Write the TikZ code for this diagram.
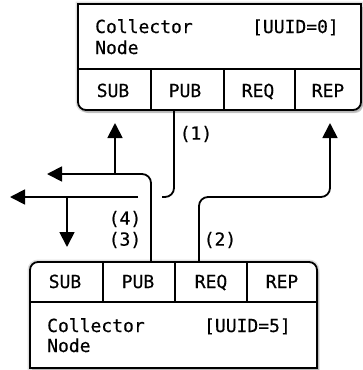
\documentclass[tikz,border=0pt]{standalone}
\usepackage{fontspec}
\newfontfamily\diagfont{DejaVu Sans Mono}[FakeBold=0.4]
\usetikzlibrary{arrows.meta, shadows}

\begin{document}
\begin{tikzpicture}[x=1pt, y=1pt,
    font=\diagfont\fontsize{18}{21}\selectfont,
    box/.style={line width=1.8pt, fill=white,
      preaction={draw=black, opacity=0.12, line width=5pt},
      drop shadow={shadow xshift=2pt, shadow yshift=-3pt, opacity=0.4}},
    rule/.style={line width=1.8pt},
    wire/.style={line width=1.8pt, rounded corners=9pt},
    tip/.style={-{Triangle[length=15pt, width=15pt]}},
    txt/.style={inner sep=0pt}]
  \useasboundingbox (0,0) rectangle (362,-370);

  % collector node, uuid 0
  \filldraw[box] (78,-4) [rounded corners=8pt] -- (78,-110) -- (361,-110)
    [sharp corners] -- (361,-4) -- cycle;
  \draw[rule] (78,-69) -- (361,-69);
  \foreach \x in {151,224,295}
    \draw[rule] (\x,-69) -- (\x,-110);
  \node[txt, anchor=base west] (top-name) at (95,-33) {Collector};
  \node[txt, anchor=base west] (top-node) at (95,-54) {Node};
  \node[txt, anchor=base east] (top-uuid) at (339,-33) {[UUID=0]};
  \node[txt, anchor=base] (top-sub) at (113,-97) {SUB};
  \node[txt, anchor=base] (top-pub) at (185,-97) {PUB};
  \node[txt, anchor=base] (top-req) at (258,-97) {REQ};
  \node[txt, anchor=base] (top-rep) at (328,-97) {REP};

  % collector node, uuid 5
  \filldraw[box] (30,-368) [rounded corners=8pt] -- (30,-262) -- (317,-262)
    [sharp corners] -- (317,-368) -- cycle;
  \draw[rule] (30,-302) -- (317,-302);
  \foreach \x in {103,175,247}
    \draw[rule] (\x,-262) -- (\x,-302);
  \node[txt, anchor=base west] (bot-name) at (47,-332) {Collector};
  \node[txt, anchor=base west] (bot-node) at (47,-352) {Node};
  \node[txt, anchor=base east] (bot-uuid) at (291,-332) {[UUID=5]};
  \node[txt, anchor=base] (bot-sub) at (65,-288) {SUB};
  \node[txt, anchor=base] (bot-pub) at (138,-288) {PUB};
  \node[txt, anchor=base] (bot-req) at (211,-288) {REQ};
  \node[txt, anchor=base] (bot-rep) at (282,-288) {REP};

  % port ends and junctions
  \coordinate (top-sub-in)  at (115,-123);
  \coordinate (top-pub-out) at (174,-110);
  \coordinate (top-rep-in)  at (330,-123);
  \coordinate (bot-sub-in)  at (67,-247);
  \coordinate (bot-pub-out) at (151,-262);
  \coordinate (bot-req-out) at (199,-262);
  \coordinate (west-hi)     at (47,-174);
  \coordinate (west-lo)     at (10,-197);
  \coordinate (split-hi)    at (115,-174);
  \coordinate (split-lo)    at (67,-197);
  \coordinate (gap-r)       at (162,-197);
  \coordinate (gap-l)       at (138,-197);
  \coordinate (turn-rep)    at (330,-197);

  % messages
  \draw[wire, tip] (bot-pub-out) |- (west-hi);
  \draw[wire, tip] (split-hi) -- (top-sub-in);
  \draw[wire] (top-pub-out) |- (gap-r);
  \draw[wire, tip] (gap-l) -- (west-lo);
  \draw[wire, tip] (split-lo) -- (bot-sub-in);
  \draw[wire, tip] (bot-req-out) |- (turn-rep) -- (top-rep-in);

  \node (lbl-1) at (196,-134) {(1)};
  \node (lbl-4) at (125,-219) {(4)};
  \node (lbl-3) at (125,-240) {(3)};
  \node (lbl-2) at (220,-240) {(2)};
\end{tikzpicture}
\end{document}
